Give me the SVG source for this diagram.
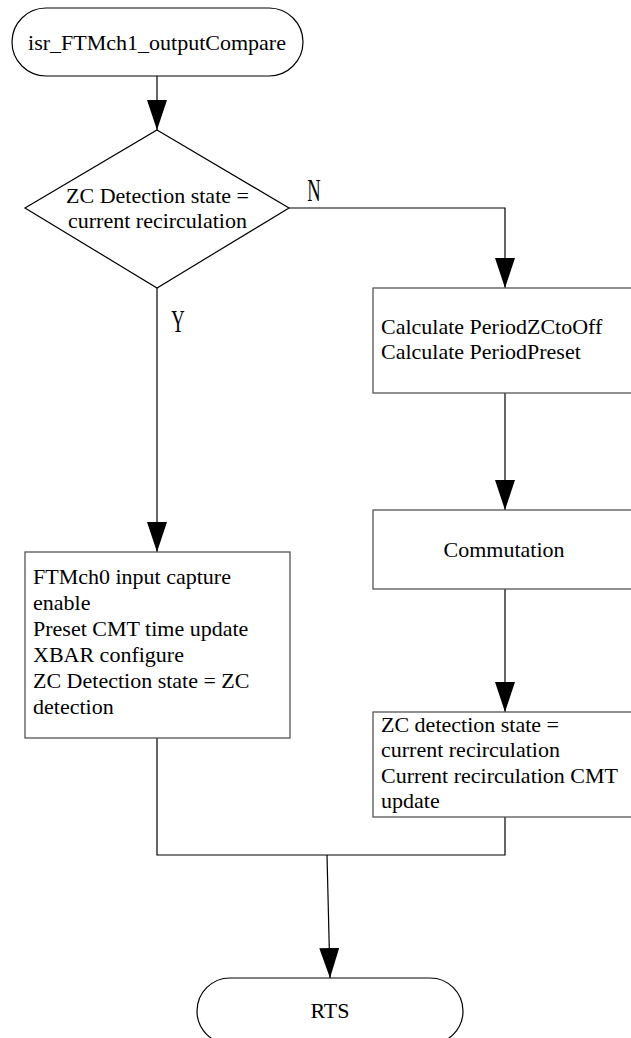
<svg xmlns="http://www.w3.org/2000/svg" width="631" height="1038" viewBox="0 0 631 1038">
<defs>
<style>
.t{font-family:"Liberation Serif","Times New Roman",serif;font-size:22px;fill:#000}
.c{text-anchor:middle}
.lbl{font-family:"Liberation Serif","Times New Roman",serif;font-size:31px;fill:#000;text-anchor:middle}
.box{fill:#fff;stroke:#555;stroke-width:1.3}
.term{fill:#fff;stroke:#000;stroke-width:1.2}
.ln{fill:none;stroke:#000;stroke-width:1.2}
</style>
<marker id="ah" viewBox="0 0 30 20" refX="30" refY="10" markerWidth="30" markerHeight="20" markerUnits="userSpaceOnUse" orient="auto">
<path d="M0,0 L30,10 L0,20 Z" fill="#000"/>
</marker>
</defs>
<rect width="631" height="1038" fill="#fff"/>
<g id="connectors">
<line class="ln" x1="157" y1="76" x2="157" y2="130" marker-end="url(#ah)"/>
<polyline class="ln" points="289,208 505,208 505,288" marker-end="url(#ah)"/>
<line class="ln" x1="157" y1="288" x2="157" y2="552" marker-end="url(#ah)"/>
<line class="ln" x1="505" y1="393" x2="505" y2="510" marker-end="url(#ah)"/>
<line class="ln" x1="505" y1="589" x2="505" y2="712" marker-end="url(#ah)"/>
<polyline class="ln" points="157,738 157,855 505,855 505,817"/>
<line class="ln" x1="327" y1="855" x2="330" y2="978" marker-end="url(#ah)"/>
</g>
<g id="start">
<rect class="term" x="12" y="8" width="291" height="68" rx="34" ry="34"/>
<text class="t c" x="157" y="50">isr_FTMch1_outputCompare</text>
</g>
<g id="decision">
<polygon class="ln" points="157,130 289,208 157,288 25,208" fill="#fff"/>
<text class="t c" x="157.5" y="203">ZC Detection state =</text>
<text class="t c" x="157.5" y="228">current recirculation</text>
</g>
<g id="label-n">
<text class="lbl" transform="translate(314,201) scale(0.6,1)">N</text>
</g>
<g id="label-y">
<text class="lbl" transform="translate(178,332) scale(0.6,1)">Y</text>
</g>
<g id="calc">
<rect class="box" x="373" y="288" width="270" height="105"/>
<text class="t" x="381" y="334">Calculate PeriodZCtoOff</text>
<text class="t" x="381" y="359">Calculate PeriodPreset</text>
</g>
<g id="commutation">
<rect class="box" x="373" y="510" width="270" height="79"/>
<text class="t c" x="504" y="557">Commutation</text>
</g>
<g id="zc-left">
<rect class="box" x="25" y="552" width="265" height="186"/>
<text class="t" x="33" y="584">FTMch0 input capture</text>
<text class="t" x="33" y="610">enable</text>
<text class="t" x="33" y="636">Preset CMT time update</text>
<text class="t" x="33" y="662">XBAR configure</text>
<text class="t" x="33" y="688">ZC Detection state = ZC</text>
<text class="t" x="33" y="714">detection</text>
</g>
<g id="zc-right">
<rect class="box" x="373" y="712" width="270" height="105"/>
<text class="t" x="381" y="732">ZC detection state =</text>
<text class="t" x="381" y="757">current recirculation</text>
<text class="t" x="381" y="783">Current recirculation CMT</text>
<text class="t" x="381" y="808">update</text>
</g>
<g id="end">
<rect class="term" x="197" y="978" width="266" height="66" rx="33" ry="33"/>
<text class="t c" x="330" y="1018">RTS</text>
</g>
</svg>
